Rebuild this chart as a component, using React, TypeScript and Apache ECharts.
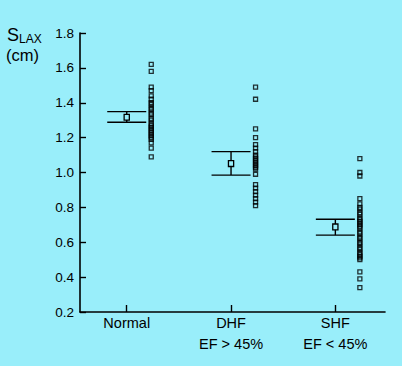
import React, { useEffect, useRef } from "react";
import * as echarts from "echarts";

// Category labels
const categories = ["Normal", "DHF", "SHF"];
const subLabels = ["", "EF > 45%", "EF < 45%"];

// Y-axis ticks
const yMin = 0.2;
const yMax = 1.8;
const yStep = 0.2;

// Group summary (mean and error-bar limits), cm
const means = [1.317, 1.051, 0.688];
const lower = [1.288, 0.985, 0.641];
const upper = [1.349, 1.12, 0.732];

// Individual measurements, cm
const normalValues = [
  1.62, 1.58, 1.49, 1.47, 1.44, 1.42, 1.4, 1.39, 1.37, 1.36, 1.34, 1.33, 1.31,
  1.3, 1.28, 1.27, 1.26, 1.25, 1.24, 1.23, 1.22, 1.21, 1.2, 1.19, 1.17, 1.14,
  1.09,
];
const dhfValues = [
  1.49, 1.42, 1.25, 1.2, 1.16, 1.14, 1.12, 1.1, 1.09, 1.08, 1.07, 1.06, 1.05,
  1.04, 1.03, 1.02, 0.99, 0.93, 0.91, 0.89, 0.87, 0.85, 0.83, 0.81,
];
const shfValues = [
  1.08, 1.0, 0.98, 0.85, 0.82, 0.8, 0.79, 0.77, 0.76, 0.74, 0.73, 0.72, 0.71,
  0.7, 0.69, 0.68, 0.66, 0.65, 0.63, 0.62, 0.6, 0.59, 0.57, 0.56, 0.54, 0.53,
  0.52, 0.51, 0.5, 0.43, 0.39, 0.34,
];

const BG = "#99EEFA";
const FONT = "'Liberation Sans', Arial, Helvetica, sans-serif";
const POINT_OFFSET = 0.235;
const CAP_HALF = 19.5;

export default function App() {
  const ref = useRef<HTMLDivElement>(null);

  useEffect(() => {
    if (!ref.current) return;
    const chart = echarts.init(ref.current, null, { renderer: "svg" });

    const groups = [normalValues, dhfValues, shfValues];
    const scatterData: number[][] = [];
    groups.forEach((vals, i) => {
      vals.forEach((v) => scatterData.push([i + 1 + POINT_OFFSET, v]));
    });
    const summaryData = means.map((m, i) => [i + 1, m, lower[i], upper[i]]);

    chart.setOption({
      animation: false,
      backgroundColor: BG,
      grid: { left: 80, top: 33, right: 17, bottom: 54, containLabel: false },
      xAxis: {
        type: "value",
        min: 0.552,
        max: 3.476,
        splitLine: { show: false },
        axisLine: { show: true, lineStyle: { color: "#000", width: 1.6 } },
        axisTick: {
          show: true,
          inside: true,
          length: 7,
          customValues: [1, 2, 3],
          lineStyle: { color: "#000", width: 1.4 },
        },
        axisLabel: {
          customValues: [1, 2, 3],
          margin: 0,
          color: "#000",
          fontFamily: FONT,
          fontSize: 14.5,
          lineHeight: 21,
          formatter: (v: number) => {
            const i = Math.round(v) - 1;
            return subLabels[i] ? categories[i] + "\n" + subLabels[i] : categories[i];
          },
        },
      },
      yAxis: {
        type: "value",
        min: yMin,
        max: yMax,
        interval: yStep,
        splitLine: { show: false },
        axisLine: { show: true, lineStyle: { color: "#000", width: 1.6 } },
        axisTick: {
          show: true,
          inside: true,
          length: 6,
          lineStyle: { color: "#000", width: 1.4 },
        },
        axisLabel: {
          margin: 6,
          color: "#000",
          fontFamily: FONT,
          fontSize: 13.5,
          formatter: (v: number) => v.toFixed(1),
        },
      },
      graphic: [
        {
          type: "text",
          left: 7,
          top: 26,
          style: { text: "S", fontSize: 18, fontFamily: FONT, fill: "#000" },
        },
        {
          type: "text",
          left: 19,
          top: 33,
          style: { text: "LAX", fontSize: 12, fontFamily: FONT, fill: "#000" },
        },
        {
          type: "text",
          left: 6,
          top: 46.5,
          style: { text: "(cm)", fontSize: 16.5, fontFamily: FONT, fill: "#000" },
        },
      ],
      series: [
        {
          type: "scatter",
          data: scatterData,
          symbol: "rect",
          symbolSize: 4,
          itemStyle: { color: "rgba(0,0,0,0)", borderColor: "#000", borderWidth: 1.3 },
          z: 3,
        },
        {
          type: "custom",
          data: summaryData,
          z: 4,
          renderItem: (params: any, api: any) => {
            const x = api.value(0);
            const pm = api.coord([x, api.value(1)]);
            const pl = api.coord([x, api.value(2)]);
            const ph = api.coord([x, api.value(3)]);
            const ls = { stroke: "#000", lineWidth: 1.4 };
            return {
              type: "group",
              children: [
                { type: "line", shape: { x1: pl[0], y1: pl[1], x2: ph[0], y2: ph[1] }, style: ls },
                { type: "line", shape: { x1: pl[0] - CAP_HALF, y1: pl[1], x2: pl[0] + CAP_HALF, y2: pl[1] }, style: ls },
                { type: "line", shape: { x1: ph[0] - CAP_HALF, y1: ph[1], x2: ph[0] + CAP_HALF, y2: ph[1] }, style: ls },
                {
                  type: "rect",
                  shape: { x: pm[0] - 2.6, y: pm[1] - 2.9, width: 5.2, height: 5.8 },
                  style: { fill: BG, stroke: "#000", lineWidth: 1.3 },
                },
              ],
            };
          },
        },
      ],
    });

    return () => chart.dispose();
  }, []);

  return (
    <div
      ref={ref}
      style={{ position: "fixed", left: 0, top: 0, width: 402, height: 366 }}
    />
  );
}
